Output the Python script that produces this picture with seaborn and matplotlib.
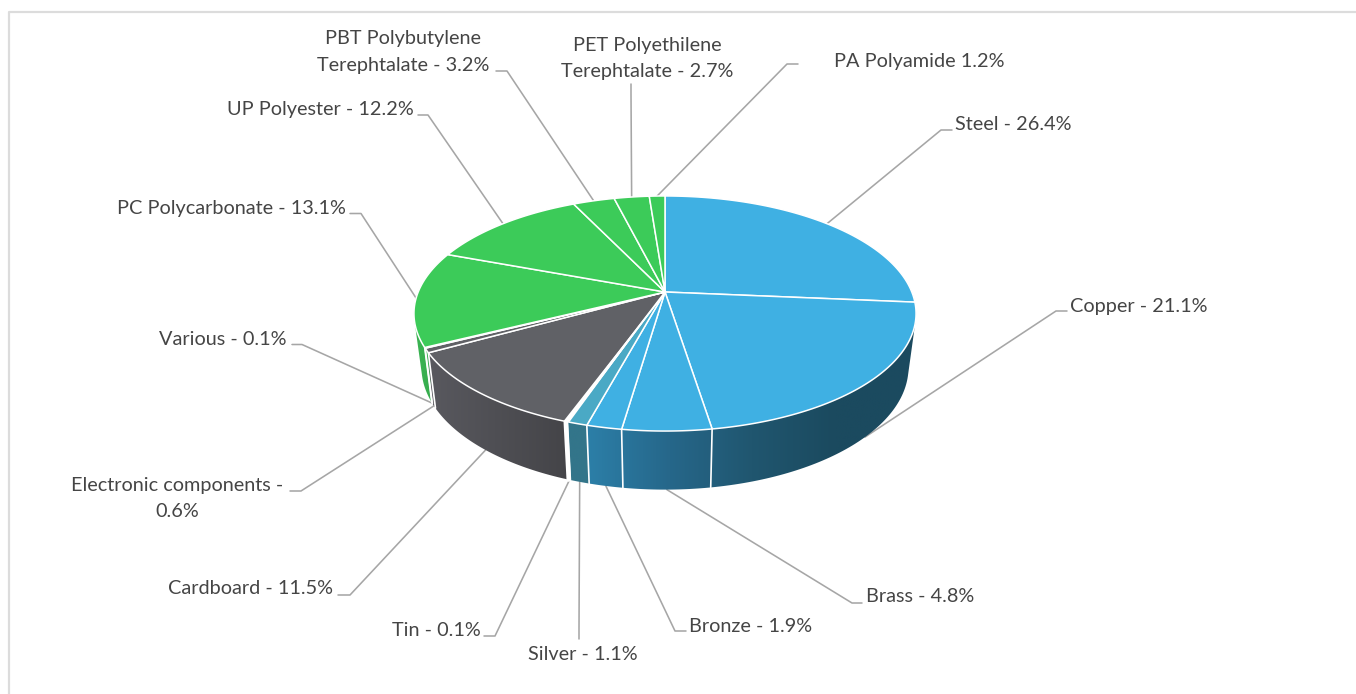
#!/usr/bin/env python3
import numpy as np
import matplotlib
matplotlib.use("Agg")
import matplotlib.pyplot as plt
from matplotlib.patches import Polygon
import seaborn as sns

materials = ["Steel", "Copper", "Brass", "Bronze", "Silver", "Tin", "Cardboard",
             "Electronic components", "Various", "PC Polycarbonate", "UP Polyester",
             "PBT Polybutylene Terephtalate", "PET Polyethilene Terephtalate", "PA Polyamide"]
shares = [26.4, 21.1, 4.8, 1.9, 1.1, 0.1, 11.5, 0.6, 0.1, 13.1, 12.2, 3.2, 2.7, 1.2]
groups = ["metal", "metal", "metal", "metal", "teal", "teal", "paper",
          "paper", "paper", "plastic", "plastic", "plastic", "plastic", "plastic"]
labels = ["Steel - 26.4%", "Copper - 21.1%", "Brass - 4.8%", "Bronze - 1.9%", "Silver - 1.1%",
          "Tin - 0.1%", "Cardboard - 11.5%", "Electronic components -\n0.6%", "Various - 0.1%",
          "PC Polycarbonate - 13.1%", "UP Polyester - 12.2%",
          "PBT Polybutylene\nTerephtalate - 3.2%", "PET Polyethilene\nTerephtalate - 2.7%",
          "PA Polyamide 1.2%"]

top_colors = {"metal": "#3FB0E3", "teal": "#4AA9C5", "paper": "#606166", "plastic": "#3CCB59"}
# wall shading, left to right
wall_colors = {"metal": ["#2C7FA8", "#26678A", "#20566F", "#1B4A5F", "#1B4A5F", "#1B4A5F"],
               "teal": ["#33758A", "#33758A"],
               "paper": ["#5A5A60", "#444448"],
               "plastic": ["#3CB755", "#35A84A"]}
wall_span = {"metal": (587, 1000), "teal": (560, 595), "paper": (420, 570), "plastic": (410, 440)}

# label centre, then where the leader bends and ends (pixels)
label_pos = [(1013, 124), (1139, 306), (920, 597), (751, 626), (583, 655), (436, 630), (251, 589),
             (177, 498.5), (223, 339), (231, 208), (320, 109), (403, 52), (647, 58.5), (919, 61)]
elbows = [(941, 130), (1056, 311), (852, 603), (675, 631), (579, 629), (495, 636), (350, 595),
          (301, 491), (302, 344.5), (361, 213.5), (428, 115), (507, 71), (631, 94), (787, 64)]
tails = [(952, 130), (1067, 311), (862, 603), (686, 631), (579, 639), (484, 636), (338, 595),
         (290, 491), (292, 344.5), (350, 213.5), (418, 115), (496, 71), (631, 84), (798, 64)]

CX, CY = 665, 292
A, B, K = 113.6, 246.8, -0.183   # perspective of the disc
DEPTH, SX, SY = 53, 0.97, 1.04   # lower rim relative to upper rim


def rim(deg, lower=False):
    t = np.radians(deg)
    u, v = np.sin(t), -np.cos(t)
    d = 1 + K * v
    x, y = B * u / d, A * v / d
    if lower:
        return CX + SX * x, CY + DEPTH + SY * y
    return CX + x, CY + y


def hull(points):
    pts = sorted(map(tuple, points))

    def half(seq):
        out = []
        for p in seq:
            while len(out) > 1 and ((out[-1][0] - out[-2][0]) * (p[1] - out[-2][1])
                                    - (out[-1][1] - out[-2][1]) * (p[0] - out[-2][0])) <= 0:
                out.pop()
            out.append(p)
        return out[:-1]

    return np.array(half(pts) + half(pts[::-1]))


def main():
    sns.set_theme(style="white")
    plt.rcParams["font.family"] = ["Lato", "DejaVu Sans"]

    fig = plt.figure(figsize=(13.56, 6.94), dpi=100)
    ax = fig.add_axes([0, 0, 1, 1])

    # frame
    ax.plot([9, 9, 1356], [694, 12, 12], color="#DCDCDC", lw=1.6, zorder=1)

    edges = np.concatenate([[0], np.cumsum(shares)]) * 3.6
    mids = (edges[:-1] + edges[1:]) / 2

    # leaders
    for i, m in enumerate(mids):
        x0, y0 = rim(m, lower=95 < m < 265)
        ex, ey = elbows[i]
        tx, ty = tails[i]
        ax.plot([x0, ex, tx], [y0, ey, ty], color="#A6A6A6", lw=1.15, zorder=2,
                solid_joinstyle="round")

    # side walls, front part only, shaded left to right
    # the hull overshoots on the inside only, and the pie top covers that
    ramp = np.linspace(0, 1, 256).reshape(1, -1)
    for i, g in enumerate(groups):
        lo, hi = max(edges[i], 88), min(edges[i + 1], 272)
        if hi <= lo:
            continue
        ts = np.linspace(lo, hi, 80)
        xt, yt = rim(ts)
        xb, yb = rim(ts, True)
        verts = hull(np.column_stack([np.r_[xt, xb], np.r_[yt, yb]]))
        x_lo, x_hi = wall_span[g]
        img = ax.imshow(ramp, cmap=sns.blend_palette(wall_colors[g], as_cmap=True), vmin=0, vmax=1,
                        extent=(x_lo, x_hi, 520, 280), aspect="auto", zorder=3)
        patch = Polygon(verts, closed=True, transform=ax.transData, facecolor="none", edgecolor="none")
        ax.add_patch(patch)
        img.set_clip_path(patch)

    # seams on the walls
    for e in edges[1:]:
        if 100 < e < 268:
            xa, ya = rim(e)
            xb, yb = rim(e, True)
            ax.plot([xa, xb], [ya, yb], color="white", lw=1.2, zorder=4)
    gap = edges[6]
    xa, ya = rim(gap)
    xb, yb = rim(gap, True)
    ax.plot([xa, xb], [ya, yb], color="white", lw=3.2, zorder=4)

    # top of the pie
    for i, g in enumerate(groups):
        ts = np.linspace(edges[i], edges[i + 1], max(int(edges[i + 1] - edges[i]) * 2, 3))
        xs, ys = rim(ts)
        ax.fill(np.r_[CX, xs], np.r_[CY, ys], facecolor=top_colors[g], edgecolor="white",
                lw=1.1, joinstyle="round", zorder=5)

    # wider cut between tin and cardboard
    ts = np.array([gap - 0.75, gap + 0.45])
    xs, ys = rim(ts)
    ax.fill(np.r_[CX, xs], np.r_[CY, ys], color="white", lw=0, zorder=6)

    for i, txt in enumerate(labels):
        x, y = label_pos[i]
        ax.text(x, y, txt, ha="center", va="center", fontsize=14.3, color="#454545",
                linespacing=1.66, zorder=7)

    ax.set_xlim(0, 1356)
    ax.set_ylim(694, 0)
    ax.axis("off")

    fig.savefig("out.png", dpi=100, facecolor="white")
    plt.close(fig)


if __name__ == "__main__":
    main()
